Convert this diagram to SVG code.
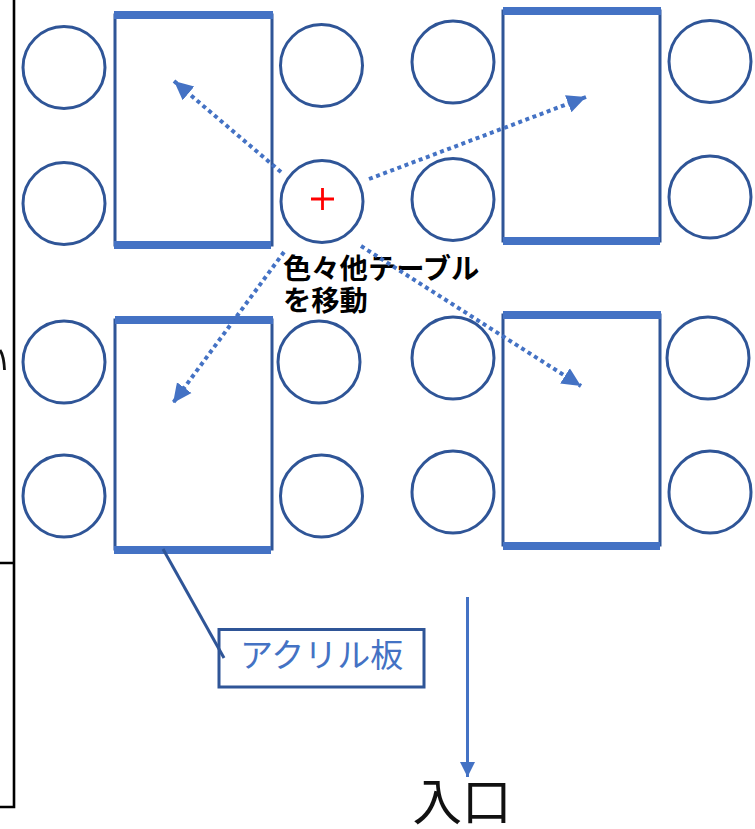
<svg xmlns="http://www.w3.org/2000/svg" width="755" height="829" viewBox="0 0 755 829">
<style>
.seat{fill:#fff;stroke:#2F5597;stroke-width:3}
.top{fill:#fff;stroke:#2F5597;stroke-width:3}
.bar{fill:#4472C4;stroke:none}
.dot{fill:none;stroke:#4472C4;stroke-width:4;stroke-dasharray:4 3.600}
.wall{fill:none;stroke:#000;stroke-width:2.600}
.cjk{font-family:"Noto Sans CJK JP","Noto Sans CJK SC",sans-serif}
</style>
<defs>
<marker id="head" markerUnits="userSpaceOnUse" markerWidth="20" markerHeight="20" refX="19" refY="10" orient="auto"><path d="M0 1L19 10L0 19Z" fill="#4472C4"/></marker>
<marker id="head2" markerUnits="userSpaceOnUse" markerWidth="16" markerHeight="16" refX="15" refY="8" orient="auto"><path d="M0 0.500L15 8L0 15.500Z" fill="#4472C4"/></marker>
</defs>
<rect width="755" height="829" fill="#fff"/>
<g id="wall">
<path class="wall" d="M14 0V807H0M0 563H14"/>
<path d="M0 350Q4 356 4.500 370" fill="none" stroke="#111" stroke-width="2.800"/>
</g>
<g id="table-1"><rect class="top" x="115" y="15" width="157" height="230"/><rect class="bar" x="114" y="11" width="159" height="8"/><rect class="bar" x="114" y="241" width="157" height="8"/></g>
<g id="table-2"><rect class="top" x="503" y="11" width="157" height="230"/><rect class="bar" x="503" y="7" width="158" height="8"/><rect class="bar" x="503" y="237" width="157" height="8"/></g>
<g id="table-3"><rect class="top" x="115" y="320" width="157" height="229"/><rect class="bar" x="115" y="316" width="158" height="8"/><rect class="bar" x="114" y="546" width="157" height="8"/></g>
<g id="table-4"><rect class="top" x="503" y="315" width="157" height="230"/><rect class="bar" x="503" y="311" width="158" height="8"/><rect class="bar" x="503" y="542" width="157" height="8"/></g>
<g id="seat-1"><circle class="seat" cx="64" cy="67.500" r="41"/></g>
<g id="seat-2"><circle class="seat" cx="64" cy="203.500" r="41"/></g>
<g id="seat-3"><circle class="seat" cx="321.500" cy="65.500" r="41"/></g>
<g id="seat-4"><circle class="seat" cx="322" cy="201.500" r="41"/><path d="M311 199H334M322.500 188V210" fill="none" stroke="#F00" stroke-width="2.800"/></g>
<g id="seat-5"><circle class="seat" cx="453" cy="62" r="41"/></g>
<g id="seat-6"><circle class="seat" cx="453" cy="199.500" r="41"/></g>
<g id="seat-7"><circle class="seat" cx="710" cy="61.500" r="41"/></g>
<g id="seat-8"><circle class="seat" cx="710" cy="197" r="41"/></g>
<g id="seat-9"><circle class="seat" cx="64" cy="362" r="41"/></g>
<g id="seat-10"><circle class="seat" cx="64" cy="496" r="41"/></g>
<g id="seat-11"><circle class="seat" cx="319" cy="362" r="41"/></g>
<g id="seat-12"><circle class="seat" cx="321.500" cy="496" r="41"/></g>
<g id="seat-13"><circle class="seat" cx="453" cy="358" r="41"/></g>
<g id="seat-14"><circle class="seat" cx="453" cy="492" r="41"/></g>
<g id="seat-15"><circle class="seat" cx="708" cy="358" r="41"/></g>
<g id="seat-16"><circle class="seat" cx="710" cy="492" r="41"/></g>
<g id="label-move"><text class="cjk" font-size="28.300" font-weight="700" fill="#000"><tspan x="283" y="279">色々他テーブル</tspan><tspan x="283" y="311">を移動</tspan></text></g>
<g id="label-acrylic"><rect x="219" y="629.500" width="205" height="57.500" fill="#fff" stroke="#2F5597" stroke-width="3"/><text class="cjk" x="240" y="667" font-size="33" fill="#4472C4">アクリル板</text></g>
<g id="label-entrance"><text class="cjk" x="412.500" y="820" font-size="49.500" fill="#111">入口</text></g>
<g id="connectors">
<path class="dot" marker-end="url(#head)" d="M281 172L174 81"/>
<path class="dot" marker-end="url(#head)" d="M369 179L586 97"/>
<path class="dot" marker-end="url(#head)" d="M284 252L173 403"/>
<path class="dot" marker-end="url(#head)" d="M361 246L581 386"/>
<path d="M163 549L224 658" fill="none" stroke="#2F5597" stroke-width="3"/>
<path d="M467.500 597V777" fill="none" stroke="#4472C4" stroke-width="3" marker-end="url(#head2)"/>
</g>
</svg>
